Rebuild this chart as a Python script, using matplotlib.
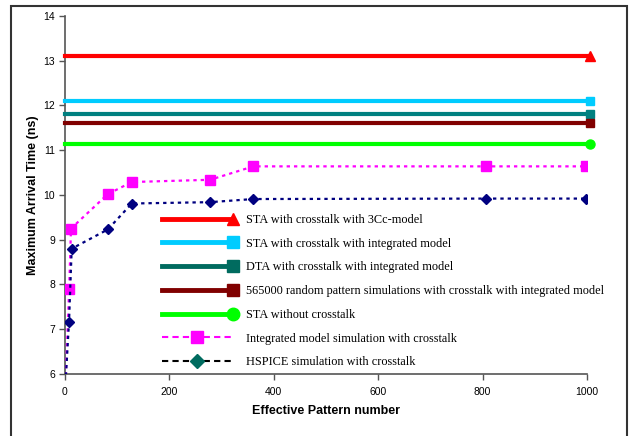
import numpy as np
import matplotlib
matplotlib.use("Agg")
import matplotlib.pyplot as plt
from matplotlib.lines import Line2D
from matplotlib.legend_handler import HandlerLine2D
from matplotlib.patches import Rectangle

# ---- data ----
flat_x = [0, 1005]
sta_3cc = [13.1, 13.1]
sta_int = [12.09, 12.09]
dta_int = [11.8, 11.8]
rand_int = [11.6, 11.6]
sta_noxt = [11.14, 11.14]

integ_x = [1, 8, 11.5, 82, 128, 278, 361, 806, 999]
integ_y = [5.8, 7.91, 9.25, 10.02, 10.29, 10.34, 10.64, 10.64, 10.64]

hsp_x = [1, 7.7, 12.8, 82, 128, 278, 361, 806, 999]
hsp_y = [5.8, 7.17, 8.8, 9.23, 9.81, 9.84, 9.91, 9.92, 9.92]

labels = [
    "STA with crosstalk with 3Cc-model",
    "STA with crosstalk with integrated model",
    "DTA with crosstalk with integrated model",
    "565000 random pattern simulations with crosstalk with integrated model",
    "STA without crosstalk",
    "Integrated model simulation with crosstalk",
    "HSPICE simulation with crosstalk",
]
x_ticks = [0, 200, 400, 600, 800, 1000]
y_ticks = [6, 7, 8, 9, 10, 11, 12, 13, 14]

W, H = 631, 436
fig = plt.figure(figsize=(W / 100, H / 100), dpi=100)
ax = fig.add_axes([65 / W, 1 - 374 / H, (587 - 65) / W, (374 - 16) / H])

flat_styles = [
    (sta_3cc, "#FF0000", "^", 7),
    (sta_int, "#00CCFF", "s", 6),
    (dta_int, "#008080", "s", 6),
    (rand_int, "#800000", "s", 6),
    (sta_noxt, "#00FF00", "o", 6.5),
]
for ys, c, m, ms in flat_styles:
    ax.plot(flat_x, ys, color=c, lw=3, marker=m, ms=ms, markevery=[1],
            clip_on=False, zorder=3)

ax.plot(integ_x, integ_y, color="#FF00FF", lw=1.6, ls=(0, (1.5, 1.8)),
        marker="s", ms=6.5, zorder=4)
ax.plot(hsp_x, hsp_y, color="#000080", lw=1.6, ls=(0, (1.5, 1.8)),
        marker="D", ms=5, zorder=5)

ax.set_xlim(0, 1000)
ax.set_ylim(6, 14)
ax.set_xticks(x_ticks)
ax.set_yticks(y_ticks)
for s in ("top", "right"):
    ax.spines[s].set_visible(False)
for s in ("left", "bottom"):
    ax.spines[s].set_color("#555555")
    ax.spines[s].set_linewidth(1.2)
ax.tick_params(direction="out", length=4, width=1, colors="#555555",
               labelcolor="black", labelsize=7.5, pad=3)
ax.tick_params(axis="x", pad=5)
for lab in ax.get_xticklabels() + ax.get_yticklabels():
    lab.set_fontfamily("Liberation Sans")

ax.set_xlabel("Effective Pattern number", fontfamily="Liberation Sans",
              fontweight="bold", fontsize=9, labelpad=6)
ax.set_ylabel("Maximum Arrival Time (ns)", fontfamily="Liberation Sans",
              fontweight="bold", fontsize=9, labelpad=3)


class EndMarker(HandlerLine2D):
    def create_artists(self, *args, **kwargs):
        arts = super().create_artists(*args, **kwargs)
        for a in arts:
            a.set_markevery([2])
        return arts


handles = [
    Line2D([], [], color="#FF0000", lw=3.5, marker="^", ms=9),
    Line2D([], [], color="#00CCFF", lw=3.5, marker="s", ms=8),
    Line2D([], [], color="#006B5F", lw=3.5, marker="s", ms=8),
    Line2D([], [], color="#800000", lw=3.5, marker="s", ms=8),
    Line2D([], [], color="#00FF00", lw=3.5, marker="o", ms=9),
    Line2D([], [], color="#FF00FF", lw=1.5, ls=(0, (3, 2)), marker="s", ms=8),
    Line2D([], [], color="black", lw=1.5, ls=(0, (3, 2)), marker="D",
           ms=7, mfc="#006B5F", mec="#006B5F"),
]
hmap = {h: EndMarker() for h in handles[:5]}
leg = ax.legend(handles, labels, handler_map=hmap, loc="upper left",
                bbox_to_anchor=(162 / W, 1 - 214 / H),
                bbox_transform=fig.transFigure, frameon=False,
                prop={"family": "Liberation Serif", "size": 8.8},
                handlelength=5.8, handletextpad=1.1, labelspacing=0.96,
                borderpad=0, borderaxespad=0, numpoints=1)

# outer frame
fig.patches.append(Rectangle((11 / W, -0.05), (627 - 11) / W, 1.05 - 6 / H,
                             transform=fig.transFigure, fill=False,
                             edgecolor="#333333", lw=1.5))

fig.savefig("out.png", dpi=100)
